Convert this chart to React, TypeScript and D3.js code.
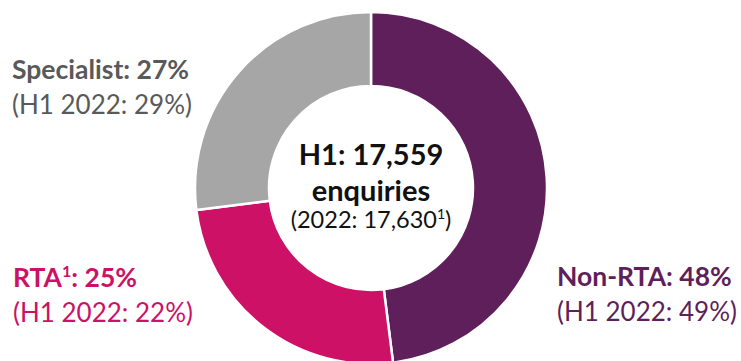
import React from "react";
import * as d3 from "d3";

const categories = ["Non-RTA", "RTA", "Specialist"];
const shares = [48, 25, 27];
const priorShares = [49, 22, 29];
const sliceColors = ["#5f1f5a", "#cc1166", "#a6a6a6"];
const textColors = ["#5f1f5a", "#cc1166", "#595959"];
const totalLabel = "H1: 17,559";
const totalSub = "enquiries";
const priorTotal = "(2022: 17,630";

const W = 741;
const H = 361;
const cx = 371;
const cy = 188;
const outerR = 176;
const innerR = 102;
const FONT = "Lato, 'Open Sans', sans-serif";

export default function App() {
  const pie = d3.pie<number>().sort(null).value((d) => d);
  const arcs = pie(shares);
  const arc = d3.arc<d3.PieArcDatum<number>>().innerRadius(innerR).outerRadius(outerR);

  const labelPos = [
    { x: 557, y1: 286, y2: 321 },
    { x: 13, y1: 287, y2: 322 },
    { x: 12, y1: 79, y2: 114 },
  ];

  return (
    <svg
      width={W}
      height={H}
      style={{ position: "absolute", left: 0, top: 0, background: "#fff" }}
      fontFamily={FONT}
    >
      <g transform={`translate(${cx},${cy})`}>
        {arcs.map((a, i) => (
          <path key={i} d={arc(a) || ""} fill={sliceColors[i]} stroke="#fff" strokeWidth={2.5} />
        ))}
        <text textAnchor="middle" y={-23} fontSize={29} fontWeight="bold" fill="#111">
          {totalLabel}
        </text>
        <text textAnchor="middle" y={13} fontSize={29} fontWeight="bold" fill="#111">
          {totalSub}
        </text>
        <text textAnchor="middle" y={40} fontSize={23.5} fill="#111">
          {priorTotal}
          <tspan fontSize={14} dy={-9}>1</tspan>
          <tspan dy={9}>)</tspan>
        </text>
      </g>
      {categories.map((c, i) => (
        <g key={c}>
          <text x={labelPos[i].x} y={labelPos[i].y1} fontSize={26.5} fontWeight="bold" fill={textColors[i]}>
            {c}
            {c === "RTA" ? (
              <>
                <tspan fontSize={16} dy={-10}>1</tspan>
                <tspan dy={10}>{`: ${shares[i]}%`}</tspan>
              </>
            ) : (
              `: ${shares[i]}%`
            )}
          </text>
          <text x={labelPos[i].x} y={labelPos[i].y2} fontSize={26} fill={textColors[i]}>
            {`(H1 2022: ${priorShares[i]}%)`}
          </text>
        </g>
      ))}
    </svg>
  );
}
